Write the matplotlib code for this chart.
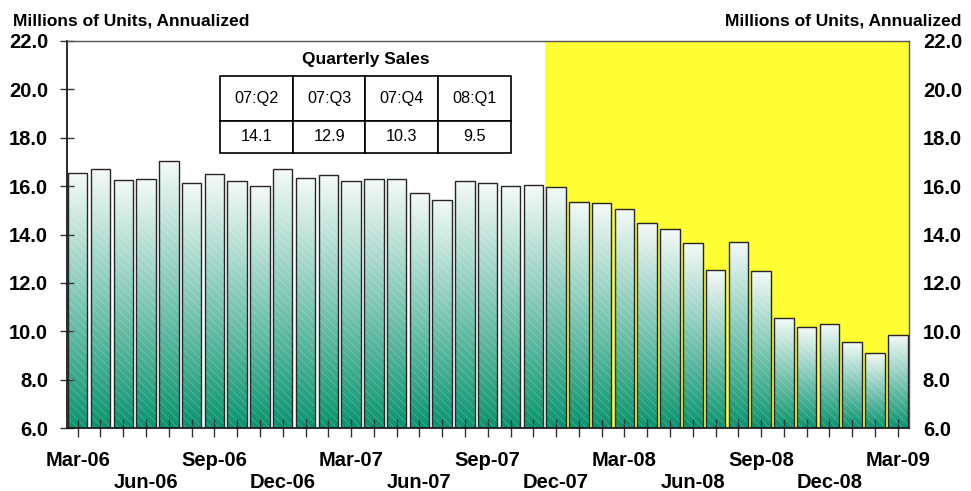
import numpy as np
import pandas as pd
import matplotlib.pyplot as plt
from matplotlib.colors import LinearSegmentedColormap
from matplotlib.patches import Rectangle
from matplotlib.ticker import FixedLocator, FixedFormatter

plt.rcParams['font.family'] = ['Liberation Sans', 'DejaVu Sans']
plt.rcParams['hatch.linewidth'] = 0.6

# monthly sales, millions of units (annualized), Mar-06 .. Mar-09
months = list(pd.date_range('2006-03-01', periods=37, freq='MS').strftime('%b-%y'))
sales = [16.53, 16.69, 16.27, 16.28, 17.05, 16.11, 16.49, 16.20, 16.00, 16.69,
         16.32, 16.45, 16.20, 16.28, 16.28, 15.70, 15.44, 16.23, 16.11, 15.99,
         16.03, 15.95, 15.33, 15.29, 15.04, 14.46, 14.21, 13.63, 12.52, 13.70,
         12.48, 10.53, 10.16, 10.29, 9.54, 9.09, 9.83]
recession_start = 'Dec-07'

quarters = ['07:Q2', '07:Q3', '07:Q4', '08:Q1']
quarterly_sales = [14.1, 12.9, 10.3, 9.5]

yticks = [6.0, 8.0, 10.0, 12.0, 14.0, 16.0, 18.0, 20.0, 22.0]
ymin, ymax = 6.0, 22.0

fig = plt.figure(figsize=(9.71, 4.91), dpi=100)
ax = fig.add_axes([0.0690, 0.1283, 0.8671, 0.7882])

x = np.arange(len(months))

# shaded recession period
ax.axvspan(months.index(recession_start) - 0.5, len(months), color='#ffff33', zorder=0, lw=0)

# bars with a white-to-teal gradient
cmap = LinearSegmentedColormap.from_list('teal', ['#08946f', '#f4faf8'])
grad = np.linspace(0, 1, 256).reshape(-1, 1)
bars = ax.bar(x, sales, width=0.856, facecolor='none', edgecolor='#262626', lw=1.0, zorder=3)
for rect in bars:
    x0, w, h = rect.get_x(), rect.get_width(), rect.get_height()
    im = ax.imshow(grad, cmap=cmap, origin='lower', aspect='auto', interpolation='bicubic',
                   extent=[x0, x0 + w, ymin, h], zorder=1)
    im.set_clip_path(rect)
ax.bar(x, sales, width=0.856, facecolor='none', edgecolor=(1, 1, 1, 0.22), lw=0,
       hatch='\\\\\\\\', zorder=2)
ax.set_xlim(-0.47, len(months) - 0.51)
ax.set_ylim(ymin, ymax)

# spines
for side in ['left', 'bottom']:
    ax.spines[side].set_color('#1a1a1a')
    ax.spines[side].set_linewidth(1.3)
for side in ['top', 'right']:
    ax.spines[side].set_color('#555555')
    ax.spines[side].set_linewidth(1.0)

# y axis, both sides
ax.set_yticks(yticks)
ax.set_yticklabels([f'{v:.1f}' for v in yticks], fontsize=14.5, fontweight='bold')
ax.tick_params(axis='y', direction='inout', length=10, width=1, color='#333333', pad=8.6)

ax2 = ax.twinx()
ax2.set_ylim(ymin, ymax)
ax2.set_yticks(yticks)
ax2.set_yticklabels([f'{v:.1f}' for v in yticks], fontsize=14.5, fontweight='bold')
ax2.tick_params(axis='y', length=0, pad=10)
for side in ['top', 'right', 'left', 'bottom']:
    ax2.spines[side].set_visible(False)

# x axis: labels every quarter, staggered on two rows
major = [i for i in x if i % 6 == 0]
minor = [i for i in x if i % 6 != 0]
ax.xaxis.set_major_locator(FixedLocator(major))
ax.xaxis.set_major_formatter(FixedFormatter([months[i] for i in major]))
ax.xaxis.set_minor_locator(FixedLocator(minor))
ax.xaxis.set_minor_formatter(FixedFormatter([months[i] if i % 3 == 0 else '' for i in minor]))
ax.tick_params(axis='x', which='both', direction='inout', length=13, width=1, color='#333333',
               labelsize=14.5)
ax.tick_params(axis='x', which='major', pad=10)
ax.tick_params(axis='x', which='minor', pad=25.8)
for lbl in ax.get_xticklabels(which='both'):
    lbl.set_fontweight('bold')

# quarterly sales table
col_edges = np.linspace(0.1817, 0.5273, len(quarters) + 1)
row_edges = [0.9096, 0.7941, 0.7114]
for j in range(len(quarters)):
    for r, row in enumerate([quarters, [f'{v:.1f}' for v in quarterly_sales]]):
        top, bot = row_edges[r], row_edges[r + 1]
        ax.add_patch(Rectangle((col_edges[j], bot), col_edges[j + 1] - col_edges[j], top - bot,
                               transform=ax.transAxes, facecolor='white', edgecolor='black',
                               lw=1.2, zorder=5))
        ax.text((col_edges[j] + col_edges[j + 1]) / 2, (top + bot) / 2, row[j],
                transform=ax.transAxes, ha='center', va='center', fontsize=11.7, zorder=6)
ax.text((col_edges[0] + col_edges[-1]) / 2, 0.951, 'Quarterly Sales', transform=ax.transAxes,
        ha='center', va='center', fontsize=12.5, fontweight='bold', zorder=6)

# axis titles
fig.text(0.0134, 1 - 25 / 491, 'Millions of Units, Annualized', ha='left', va='baseline',
         fontsize=12.5, fontweight='bold')
fig.text(0.9904, 1 - 25 / 491, 'Millions of Units, Annualized', ha='right', va='baseline',
         fontsize=12.5, fontweight='bold')

fig.savefig('out.png', dpi=100)
